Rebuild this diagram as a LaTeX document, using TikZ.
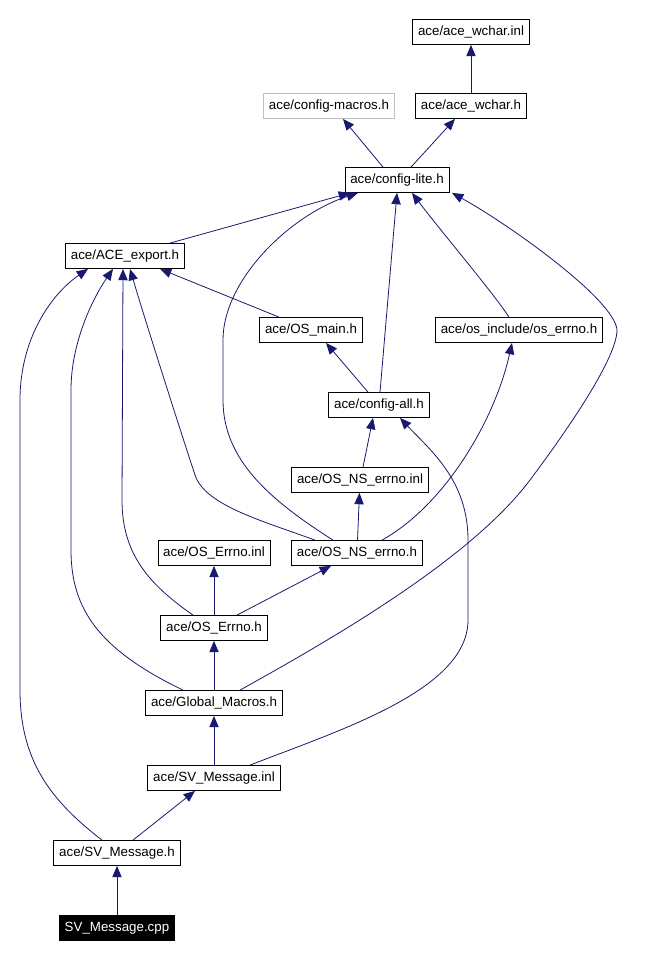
\documentclass[tikz,border=0pt]{standalone}
\usepackage{fontspec}
\setmainfont{Liberation Sans}
\usepackage{tikz}
\usetikzlibrary{arrows.meta, positioning}
\definecolor{edgeblue}{HTML}{191970}
\definecolor{lightgraybox}{HTML}{BFBFBF}
\tikzset{
  hdr/.style={shape=rectangle, draw=black, fill=white, line width=0.6pt,
    minimum height=18.75pt, inner xsep=4pt, inner ysep=0pt, font=\fontsize{10pt}{12pt}\selectfont},
  dep/.style={draw=edgeblue, line width=0.6pt, -{Triangle[length=8.5pt, width=7pt]}}
}
\begin{document}
\begin{tikzpicture}[x=0.75pt, y=-0.75pt]
		\fill[white] (0,0) rectangle (659,958);
		\useasboundingbox (0,0) rectangle (659,958);
		% Nodes:
		\node[hdr](wcharinl) at (471, 32){ace/ace\_wchar.inl};
		\node[hdr, draw=lightgraybox](configmacros) at (329, 106){ace/config-macros.h};
		\node[hdr](wcharh) at (471, 106){ace/ace\_wchar.h};
		\node[hdr](configlite) at (397, 180){ace/config-lite.h};
		\node[hdr](aceexport) at (125, 256){ace/ACE\_export.h};
		\node[hdr](osmain) at (311, 330){ace/OS\_main.h};
		\node[hdr](oserrno) at (519, 330){ace/os\_include/os\_errno.h};
		\node[hdr](configall) at (379, 405){ace/config-all.h};
		\node[hdr](osnserrnoinl) at (360, 480){ace/OS\_NS\_errno.inl};
		\node[hdr](oserrnoinl) at (214, 553){ace/OS\_Errno.inl};
		\node[hdr](osnserrnoh) at (357, 553){ace/OS\_NS\_errno.h};
		\node[hdr](oserrnoh) at (214, 628){ace/OS\_Errno.h};
		\node[hdr](globalmacros) at (214, 703){ace/Global\_Macros.h};
		\node[hdr](svmessageinl) at (214, 778){ace/SV\_Message.inl};
		\node[hdr](svmessageh) at (117, 853){ace/SV\_Message.h};
		\node[hdr, fill=black, text=white](svmessagecpp) at (117, 928){SV\_Message.cpp};
		% Include edges:
		\draw[dep] (wcharh) -- (wcharinl);
		\draw[dep] (configlite.north -| 383,0) -- (configmacros.south -| 343,0);
		\draw[dep] (configlite.north -| 411,0) -- (wcharh.south -| 455,0);
		\draw[dep] (aceexport.north -| 170,0) -- (configlite.south -| 350,0);
		\draw[dep] (osmain.north -| 279,0) -- (aceexport.south -| 160,0);
		\draw[dep] (configall.north -| 368,0) -- (osmain.south -| 326,0);
		\draw[dep] (configall.north -| 380,0) -- (configlite.south -| 397,0);
		\draw[dep] (oserrno.north -| 509,0) .. controls (495,295) and (440,230) .. (configlite.south -| 412,0);
		\draw[dep] (globalmacros.north -| 240,0) .. controls (330,640) and (470,560) .. (530,480)
			.. controls (560,440) and (617,360) .. (617,330) .. controls (615,300) and (510,225) .. (configlite.south -| 452,0);
		\draw[dep] (osnserrnoh.north -| 333,0) .. controls (270,500) and (223,460) .. (223,400) -- (223,340)
			.. controls (223,280) and (290,215) .. (configlite.south -| 358,0);
		\draw[dep] (osnserrnoh.north -| 315,0) .. controls (260,520) and (205,505) .. (195,475)
			.. controls (185,445) and (145,320) .. (aceexport.south -| 130,0);
		\draw[dep] (osnserrnoh) -- (osnserrnoinl);
		\draw[dep] (osnserrnoinl.north -| 363,0) -- (configall.south -| 373,0);
		\draw[dep] (osnserrnoh.north -| 382,0) .. controls (445,505) and (495,420) .. (oserrno.south -| 512,0);
		\draw[dep] (svmessageinl.north -| 250,0) .. controls (340,730) and (468,690) .. (468,620) -- (468,540)
			.. controls (468,480) and (430,450) .. (configall.south -| 400,0);
		\draw[dep] (oserrnoh) -- (oserrnoinl);
		\draw[dep] (oserrnoh.north -| 237,0) -- (osnserrnoh.south -| 331,0);
		\draw[dep] (oserrnoh.north -| 193,0) .. controls (150,585) and (122,555) .. (122,500) -- (aceexport.south -| 123,0);
		\draw[dep] (globalmacros) -- (oserrnoh);
		\draw[dep] (globalmacros.north -| 183,0) .. controls (100,650) and (71,610) .. (71,550) -- (71,390)
			.. controls (71,340) and (95,295) .. (aceexport.south -| 113,0);
		\draw[dep] (svmessageinl) -- (globalmacros);
		\draw[dep] (svmessageh.north -| 133,0) -- (svmessageinl.south -| 195,0);
		\draw[dep] (svmessageh.north -| 102,0) .. controls (50,800) and (20,760) .. (20,690) -- (20,400)
			.. controls (20,340) and (50,295) .. (aceexport.south -| 88,0);
		\draw[dep] (svmessagecpp) -- (svmessageh);
	\end{tikzpicture}
\end{document}
